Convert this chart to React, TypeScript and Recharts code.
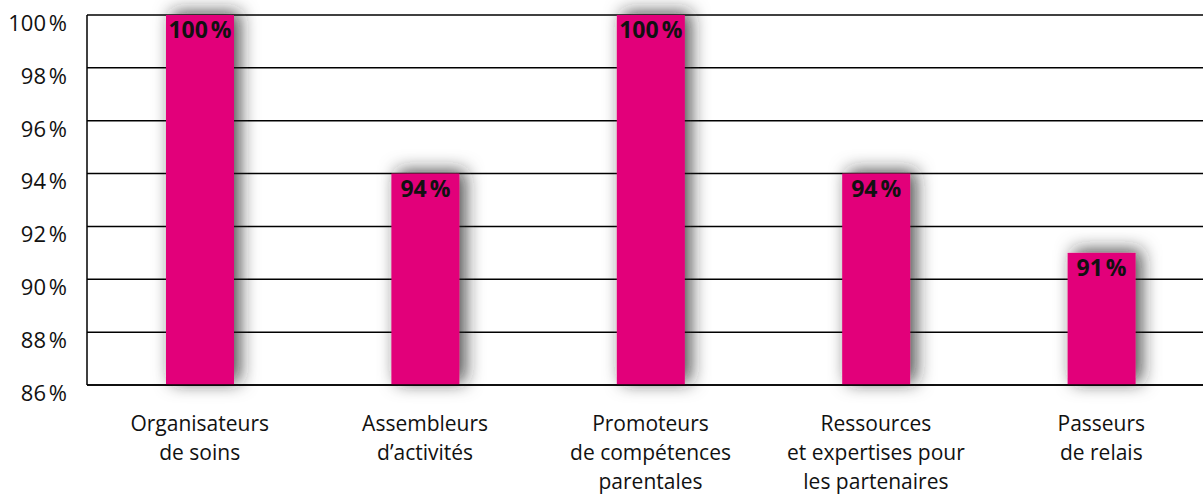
import { BarChart, Bar, XAxis, YAxis, CartesianGrid, LabelList } from 'recharts'

const categories = [
  'Organisateurs\nde soins',
  'Assembleurs\nd’activités',
  'Promoteurs\nde compétences\nparentales',
  'Ressources\net expertises pour\nles partenaires',
  'Passeurs\nde relais',
]
const values = [100, 94, 100, 94, 91]
const yTicks = [86, 88, 90, 92, 94, 96, 98, 100]

const data = categories.map((name, i) => ({ name, value: values[i] }))

const FONT = '"Open Sans", sans-serif'
const pct = (v: unknown) => `${v}\u202F%`

function CategoryTick({ x, y, payload }: any) {
  const lines = String(payload.value).split('\n')
  return (
    <text x={x} y={y} textAnchor="middle" fill="#111" fontSize={21} fontFamily={FONT}>
      {lines.map((line, i) => (
        <tspan key={i} x={x} dy={i === 0 ? 46 : 29}>{line}</tspan>
      ))}
    </text>
  )
}

function ShadowBar({ x, y, width, height, fill }: any) {
  return <rect x={x} y={y} width={width} height={height} fill={fill} filter="url(#barShadow)" />
}

export default function App() {
  return (
    <div style={{ position: 'absolute', left: 0, top: 0, width: 1203, height: 496, overflow: 'hidden', background: '#fff' }}>
      <svg width={0} height={0} style={{ position: 'absolute' }}>
        <defs>
          <filter id="barShadow" x="-80%" y="-40%" width="260%" height="180%">
            <feDropShadow dx={6} dy={-3} stdDeviation={9} floodColor="#222" floodOpacity={0.8} />
          </filter>
        </defs>
      </svg>
      <BarChart
        width={1214}
        height={496}
        data={data}
        margin={{ top: 15, right: 0, left: 0, bottom: 0 }}
        barCategoryGap={0}
      >
        <CartesianGrid horizontal vertical={false} stroke="#000" strokeWidth={1.5} />
        <XAxis
          dataKey="name"
          height={111}
          tickLine={false}
          tickSize={0}
          tickMargin={0}
          axisLine={{ stroke: '#000', strokeWidth: 1.5 }}
          tick={<CategoryTick />}
          interval={0}
        />
        <YAxis
          width={87}
          domain={[86, 100]}
          ticks={yTicks}
          tickLine={false}
          tickSize={0}
          tickMargin={20}
          tickFormatter={pct}
          axisLine={{ stroke: '#000', strokeWidth: 1.5 }}
          tick={{ fill: '#111', fontSize: 22, fontFamily: FONT, dy: 8 }}
        />
        <Bar dataKey="value" fill="#E2007A" barSize={68} shape={<ShadowBar />} isAnimationActive={false}>
          <LabelList
            dataKey="value"
            position="insideTop"
            offset={7}
            formatter={pct}
            fill="#111"
            fontSize={23}
            fontWeight="bold"
            fontFamily={FONT}
          />
        </Bar>
      </BarChart>
    </div>
  )
}
